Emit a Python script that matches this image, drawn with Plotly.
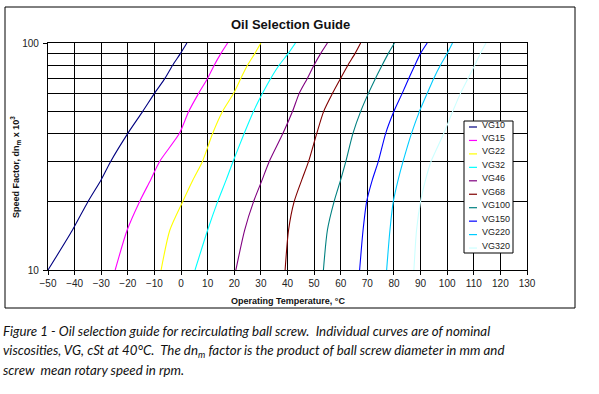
import plotly.graph_objects as go

# ---------------- data ----------------
speed_factor = [10, 15, 20, 25, 30, 40, 50, 60, 70, 80, 90, 100]   # dn_m x 10^3
grades = ["VG10", "VG15", "VG22", "VG32", "VG46", "VG68", "VG100", "VG150", "VG220", "VG320"]

vg10  = [-50.0, -40.8, -35.0, -30.0, -26.5, -20.0, -14.4, -10.0, -6.0, -3.1, -0.2, 2.2]
vg15  = [-24.75, -20.25, -15.6, -11.4, -8.1, -0.6, 2.9, 6.6, 10.0, 12.5, 15.0, 17.5]
vg22  = [-7.5, -4.2, 0.6, 4.5, 8.0, 11.9, 15.6, 19.75, 22.5, 25.0, 27.75, 30.0]
vg32  = [5.25, 10.0, 13.75, 17.0, 19.5, 23.75, 27.25, 30.6, 33.75, 36.9, 40.3, 43.0]
vg46  = [20.6, 23.9, 27.25, 30.5, 33.1, 38.3, 41.9, 44.4, 47.5, 50.0, 52.5, 55.0]
vg68  = [39.1, 40.4, 42.5, 45.4, 47.9, 51.0, 53.6, 56.9, 60.0, 62.75, 65.4, 67.5]
vg100 = [53.5, 55.0, 57.5, 60.0, 61.9, 64.6, 67.5, 70.4, 73.1, 75.6, 77.9, 80.2]
vg150 = [67.1, 68.4, 69.75, 71.9, 74.1, 76.9, 80.0, 83.1, 85.6, 87.9, 90.0, 92.5]
vg220 = [77.25, 78.5, 79.75, 81.6, 83.4, 86.6, 89.6, 92.5, 95.0, 97.5, 100.0, 102.0]
vg320 = [87.5, 88.5, 90.0, 91.9, 93.9, 98.75, 102.1, 105.0, 107.9, 110.4, 112.5, 114.6]

temps = [vg10, vg15, vg22, vg32, vg46, vg68, vg100, vg150, vg220, vg320]
colors = ["#000080", "#FF00FF", "#FFFF00", "#00FFFF", "#800080",
          "#800000", "#008080", "#0000FF", "#00CCFF", "#CCFFFF"]

x_ticks = list(range(-50, 131, 10))
y_major = [10, 100]
y_minor = [20, 30, 40, 50, 60, 70, 80, 90]

title_text = "Oil Selection Guide"
x_title = "Operating Temperature, °C"
y_title = "Speed Factor, dn<sub>m</sub> x 10<sup>3</sup>"
caption = [
    "Figure 1 - Oil selection guide for recirculating ball screw.\u00a0 Individual curves are of nominal",
    "viscosities, VG, cSt at 40°C.\u00a0 The dn<sub>m</sub> factor is the product of ball screw diameter in mm and",
    "screw\u00a0 mean rotary speed in rpm.",
]

# ---------------- layout helpers ----------------
W, H = 599, 394
ML, MR, MT, MB = 48, 72, 43, 124
PW, PH = W - ML - MR, H - MT - MB


def px(xp):
    return (xp - ML) / PW


def py(yp):
    return (H - MB - yp) / PH


fig = go.Figure()
for name, t, c in zip(grades, temps, colors):
    fig.add_trace(go.Scatter(
        x=t, y=speed_factor, mode="lines", name=name,
        line=dict(color=c, width=1.1, shape="spline", smoothing=0.7),
        showlegend=False, hoverinfo="x+y+name",
    ))

tick_font = dict(family="Arial, Liberation Sans, sans-serif", size=10, color="#222222")

fig.update_layout(
    width=W, height=H,
    margin=dict(l=ML, r=MR, t=MT, b=MB, pad=0),
    paper_bgcolor="white", plot_bgcolor="white",
    showlegend=False,
    xaxis=dict(
        range=[-50, 130], tickvals=x_ticks, ticks="outside", ticklen=4,
        tickcolor="black", tickwidth=1, showgrid=True, gridcolor="black",
        gridwidth=1.2, showline=True, linecolor="black", linewidth=1.2,
        mirror=True, zeroline=False, tickfont=tick_font,
    ),
    yaxis=dict(
        type="log", range=[1, 2], tickvals=y_major, ticktext=["10", "100"],
        ticks="outside", ticklen=4, tickcolor="black", tickwidth=1,
        ticklabelstandoff=2,
        showgrid=True, gridcolor="black", gridwidth=1.2,
        showline=True, linecolor="black", linewidth=1.2, mirror=True,
        zeroline=False, tickfont=tick_font,
        minor=dict(tickvals=y_minor, showgrid=True, gridcolor="black",
                   gridwidth=1.2, ticks=""),
    ),
)

shapes = []
annotations = []

# outer chart frame
shapes.append(dict(type="rect", xref="paper", yref="paper",
                   x0=px(5), x1=px(575), y0=py(308), y1=py(7),
                   line=dict(color="black", width=1), layer="below"))

# title
annotations.append(dict(text="<b>" + title_text + "</b>", xref="paper", yref="paper",
                        x=px(290), y=py(24), xanchor="center", yanchor="middle", showarrow=False,
                        font=dict(family="Arial, Liberation Sans, sans-serif", size=13, color="#111111")))
# axis titles
annotations.append(dict(text="<b>" + x_title + "</b>", xref="paper", yref="paper",
                        x=px(287.5), y=py(300.5), xanchor="center", yanchor="middle", showarrow=False,
                        font=dict(family="Arial, Liberation Sans, sans-serif", size=9, color="#111111")))
annotations.append(dict(text="<b>" + y_title + "</b>", xref="paper", yref="paper",
                        x=px(15), y=py(167), xanchor="center", yanchor="middle",
                        showarrow=False, textangle=-90,
                        font=dict(family="Arial, Liberation Sans, sans-serif", size=9, color="#111111")))

# manual legend
lx0, lx1, ly0, ly1 = 464, 513, 121, 253
shapes.append(dict(type="rect", xref="paper", yref="paper",
                   x0=px(lx0), x1=px(lx1), y0=py(ly1), y1=py(ly0),
                   line=dict(color="black", width=1), fillcolor="white", layer="above"))
for i, (name, c) in enumerate(zip(grades, colors)):
    yc = 124.5 + 13.45 * i
    shapes.append(dict(type="line", xref="paper", yref="paper",
                       x0=px(469), x1=px(477), y0=py(yc + 2.5), y1=py(yc + 2.5),
                       line=dict(color=c, width=1.2), layer="above"))
    annotations.append(dict(text=name, xref="paper", yref="paper",
                            x=px(479.5), y=py(yc), xanchor="left", yanchor="middle",
                            showarrow=False,
                            font=dict(family="Arial, Liberation Sans, sans-serif", size=9, color="#222222")))

# caption
for i, line in enumerate(caption):
    annotations.append(dict(text="<i>" + line + "</i>", xref="paper", yref="paper",
                            x=px(1), y=py(331 + 19.5 * i), xanchor="left", yanchor="middle",
                            showarrow=False,
                            font=dict(family="Lato, Open Sans, sans-serif", size=13.3, color="#111111")))

fig.update_layout(shapes=shapes, annotations=annotations)
fig.write_html("out.html", config={"displayModeBar": False},
               post_script="document.body.style.margin='0';")
